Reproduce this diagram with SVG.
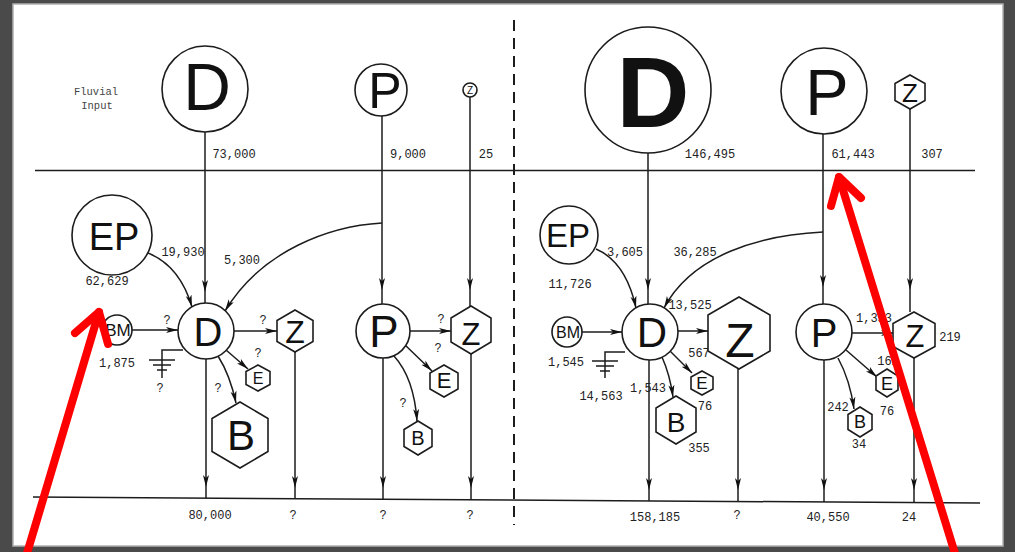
<svg xmlns="http://www.w3.org/2000/svg" width="1015" height="552" viewBox="0 0 1015 552">
<style>
.n{fill:#fff;stroke:#1c1c1c;stroke-width:1.6}
.c{fill:none;stroke:#1c1c1c;stroke-width:1.5}
.t{font-family:"Liberation Sans",Arial,sans-serif;fill:#111;text-anchor:middle}
.l{font-family:"Liberation Mono","DejaVu Sans Mono",monospace;font-size:12px;fill:#222;text-anchor:middle}
.r{fill:none;stroke:#ff0000;stroke-width:8;stroke-linecap:round;stroke-linejoin:round}
</style>
<defs>
<marker id="ah" viewBox="0 0 12 7" refX="12" refY="3.5" markerWidth="12" markerHeight="7" markerUnits="userSpaceOnUse" orient="auto">
<path d="M0,0.5 L12,3.5 L0,6.5 L3,3.5 z" fill="#111"/>
</marker>
</defs>
<rect x="0" y="0" width="1015" height="552" fill="#4a4a4a"/>
<rect x="13" y="4" width="990" height="542" fill="#fff" stroke="#b0b0b0" stroke-width="1.5"/>

<g id="frame">
<path class="c" d="M35,170.5 H975"/>
<path class="c" d="M33,497 L980,503"/>
<path d="M514,20 V525" stroke="#1c1c1c" stroke-width="2" stroke-dasharray="11 7"/>
<text x="96" y="95" font-family="Liberation Mono,monospace" font-size="10.5" fill="#444" text-anchor="middle">Fluvial</text>
<text x="97" y="109" font-family="Liberation Mono,monospace" font-size="10.5" fill="#444" text-anchor="middle">Input</text>
</g>

<g id="connectors">
<path class="c" marker-mid="url(#ah)" d="M205,132 V292 V303"/>
<path class="c" marker-mid="url(#ah)" d="M382,116 V290 V304"/>
<path class="c" marker-mid="url(#ah)" d="M470,97 V290 V306"/>
<path class="c" marker-end="url(#ah)" d="M382,223 C330,226 262,250 225,311"/>
<path class="c" marker-end="url(#ah)" d="M148,253 Q180,266 192,307"/>
<path class="c" marker-end="url(#ah)" d="M132,330 H178"/>
<path class="c" marker-end="url(#ah)" d="M234,331 H277"/>
<path class="c" marker-end="url(#ah)" d="M226,350 L248,369"/>
<path class="c" marker-end="url(#ah)" d="M218,356 Q230,375 236,403"/>
<path class="c" d="M183,350 H162 V378 M149,360 H175 M153,365 H171 M157,370 H167"/>
<path class="c" marker-mid="url(#ah)" d="M206,359 V487 V498"/>
<path class="c" marker-mid="url(#ah)" d="M295,352 V488 V499"/>
<path class="c" marker-end="url(#ah)" d="M410,331 H451"/>
<path class="c" marker-end="url(#ah)" d="M404,344 L432,371"/>
<path class="c" marker-end="url(#ah)" d="M394,356 Q414,378 417,421"/>
<path class="c" marker-mid="url(#ah)" d="M383,358 V488 V499"/>
<path class="c" marker-mid="url(#ah)" d="M471,354 V488 V500"/>

<path class="c" marker-mid="url(#ah)" d="M648,153 V290 V304"/>
<path class="c" marker-mid="url(#ah)" d="M823,134 V287 V304"/>
<path class="c" marker-mid="url(#ah)" d="M910,109 V290 V312"/>
<path class="c" marker-end="url(#ah)" d="M823,232 C760,235 692,255 664,308"/>
<path class="c" marker-end="url(#ah)" d="M596,249 Q626,262 636,308"/>
<path class="c" marker-end="url(#ah)" d="M582,332 H622"/>
<path class="c" marker-end="url(#ah)" d="M678,331 H708"/>
<path class="c" marker-end="url(#ah)" d="M670,351 L692,373"/>
<path class="c" marker-end="url(#ah)" d="M662,357 Q670,375 673,397"/>
<path class="c" d="M625,352 H605 V378 M592,361 H618 M596,366 H614 M600,371 H610"/>
<path class="c" marker-mid="url(#ah)" d="M649,360 V490 V501"/>
<path class="c" marker-mid="url(#ah)" d="M738,369 V490 V501.5"/>
<path class="c" marker-end="url(#ah)" d="M852,333 H893"/>
<path class="c" marker-end="url(#ah)" d="M846,350 L877,377"/>
<path class="c" marker-end="url(#ah)" d="M838,358 Q850,380 854,409"/>
<path class="c" marker-mid="url(#ah)" d="M824,360 V490 V502"/>
<path class="c" marker-mid="url(#ah)" d="M914,358 V490 V502.5"/>
</g>

<g id="labels">
<text class="l" x="234" y="158">73,000</text>
<text class="l" x="408" y="158">9,000</text>
<text class="l" x="486" y="158">25</text>
<text class="l" x="183" y="256">19,930</text>
<text class="l" x="242" y="264">5,300</text>
<text class="l" x="107" y="285">62,629</text>
<text class="l" x="167" y="324">?</text>
<text class="l" x="117" y="367">1,875</text>
<text class="l" x="263" y="324">?</text>
<text class="l" x="258" y="357">?</text>
<text class="l" x="160" y="392">?</text>
<text class="l" x="218" y="392">?</text>
<text class="l" x="441" y="323">?</text>
<text class="l" x="438" y="352">?</text>
<text class="l" x="403" y="407">?</text>
<text class="l" x="210" y="519">80,000</text>
<text class="l" x="293" y="519">?</text>
<text class="l" x="383" y="519">?</text>
<text class="l" x="470" y="519">?</text>

<text class="l" x="710" y="158">146,495</text>
<text class="l" x="853" y="158">61,443</text>
<text class="l" x="932" y="158">307</text>
<text class="l" x="625" y="256">3,605</text>
<text class="l" x="695" y="256">36,285</text>
<text class="l" x="570" y="288">11,726</text>
<text class="l" x="690" y="309">13,525</text>
<text class="l" x="566" y="366">1,545</text>
<text class="l" x="699" y="357">567</text>
<text class="l" x="601" y="400">14,563</text>
<text class="l" x="648" y="392">1,543</text>
<text class="l" x="705" y="410">76</text>
<text class="l" x="699" y="452">355</text>
<text class="l" x="874" y="322">1,353</text>
<text class="l" x="950" y="341">219</text>
<text class="l" x="888" y="365">162</text>
<text class="l" x="887" y="415">76</text>
<text class="l" x="838" y="411">242</text>
<text class="l" x="859" y="448">34</text>
<text class="l" x="655" y="521">158,185</text>
<text class="l" x="737" y="519">?</text>
<text class="l" x="828" y="521">40,550</text>
<text class="l" x="909" y="521">24</text>
</g>

<g id="L-D-in"><circle class="n" cx="205" cy="89" r="43"/><text class="t" x="207" y="110" font-size="66">D</text></g>
<g id="L-P-in"><circle class="n" cx="381" cy="90" r="26"/><text class="t" x="385" y="108" font-size="50">P</text></g>
<g id="L-Z-in"><circle class="n" cx="470" cy="90" r="7"/><text class="t" x="470" y="94" font-size="10">Z</text></g>
<g id="L-EP"><circle class="n" cx="112" cy="235" r="40"/><text class="t" x="114" y="250" font-size="38">EP</text></g>
<g id="L-BM"><circle class="n" cx="117" cy="330" r="15"/><text class="t" x="118" y="336" font-size="17">BM</text></g>
<g id="L-D"><circle class="n" cx="206" cy="331" r="28"/><text class="t" x="208" y="346" font-size="40">D</text></g>
<g id="L-Z1"><polygon class="n" points="295,310 313,320.5 313,341.5 295,352 277,341.5 277,320.5"/><text class="t" x="295" y="343" font-size="32">Z</text></g>
<g id="L-E1"><polygon class="n" points="258,365 270,371.5 270,384.5 258,391 246,384.5 246,371.5"/><text class="t" x="258" y="384" font-size="16">E</text></g>
<g id="L-B1"><polygon class="n" points="240,402 268,418.5 268,451.5 240,468 212,451.5 212,418.5"/><text class="t" x="241" y="450" font-size="42">B</text></g>
<g id="L-P"><circle class="n" cx="383" cy="331" r="27"/><text class="t" x="384" y="347" font-size="44">P</text></g>
<g id="L-Z2"><polygon class="n" points="471,306 491,318 491,342 471,354 451,342 451,318"/><text class="t" x="471" y="345" font-size="31">Z</text></g>
<g id="L-E2"><polygon class="n" points="444,365 458,373 458,389 444,397 430,389 430,373"/><text class="t" x="444" y="388" font-size="22">E</text></g>
<g id="L-B2"><polygon class="n" points="418,421 432,429.5 432,446.5 418,455 404,446.5 404,429.5"/><text class="t" x="418" y="445" font-size="20">B</text></g>

<g id="R-D-in"><circle class="n" cx="648" cy="90" r="63"/><text class="t" x="653" y="127" font-size="101" font-weight="bold">D</text></g>
<g id="R-P-in"><circle class="n" cx="824" cy="91" r="43"/><text class="t" x="827" y="115" font-size="65">P</text></g>
<g id="R-Z-in"><polygon class="n" points="910,75 925,83.5 925,100.5 910,109 895,100.5 895,83.5"/><text class="t" x="910" y="102" font-size="26">Z</text></g>
<g id="R-EP"><circle class="n" cx="569" cy="235" r="29"/><text class="t" x="568" y="247" font-size="33">EP</text></g>
<g id="R-BM"><circle class="n" cx="567" cy="332" r="15"/><text class="t" x="568" y="338" font-size="16">BM</text></g>
<g id="R-D"><circle class="n" cx="650" cy="332" r="28"/><text class="t" x="652" y="347" font-size="42">D</text></g>
<g id="R-Z1"><polygon class="n" points="739,297 770,315 770,351 739,369 708,351 708,315"/><text class="t" x="740" y="357" font-size="48">Z</text></g>
<g id="R-E1"><polygon class="n" points="702,371 713,377 713,389 702,395 691,389 691,377"/><text class="t" x="702" y="389" font-size="17">E</text></g>
<g id="R-B1"><polygon class="n" points="676,396 696,408 696,432 676,444 656,432 656,408"/><text class="t" x="676" y="432" font-size="28">B</text></g>
<g id="R-P"><circle class="n" cx="824" cy="332" r="28"/><text class="t" x="824" y="347" font-size="40">P</text></g>
<g id="R-Z2"><polygon class="n" points="914,312 935,323.5 935,346.5 914,358 893,346.5 893,323.5"/><text class="t" x="915" y="347" font-size="31">Z</text></g>
<g id="R-E2"><polygon class="n" points="887,369 898,376 898,390 887,397 876,390 876,376"/><text class="t" x="887" y="390" font-size="18">E</text></g>
<g id="R-B2"><polygon class="n" points="860,407 872,414.5 872,429.5 860,437 848,429.5 848,414.5"/><text class="t" x="860" y="428" font-size="18">B</text></g>

<g id="annotations">
<path class="r" d="M25,560 L99,312"/>
<path class="r" d="M75,333 L99,312 L108,344"/>
<path class="r" d="M839,177 L957,560"/>
<path class="r" d="M831,206 L839,177 L861,198"/>
</g>
</svg>
